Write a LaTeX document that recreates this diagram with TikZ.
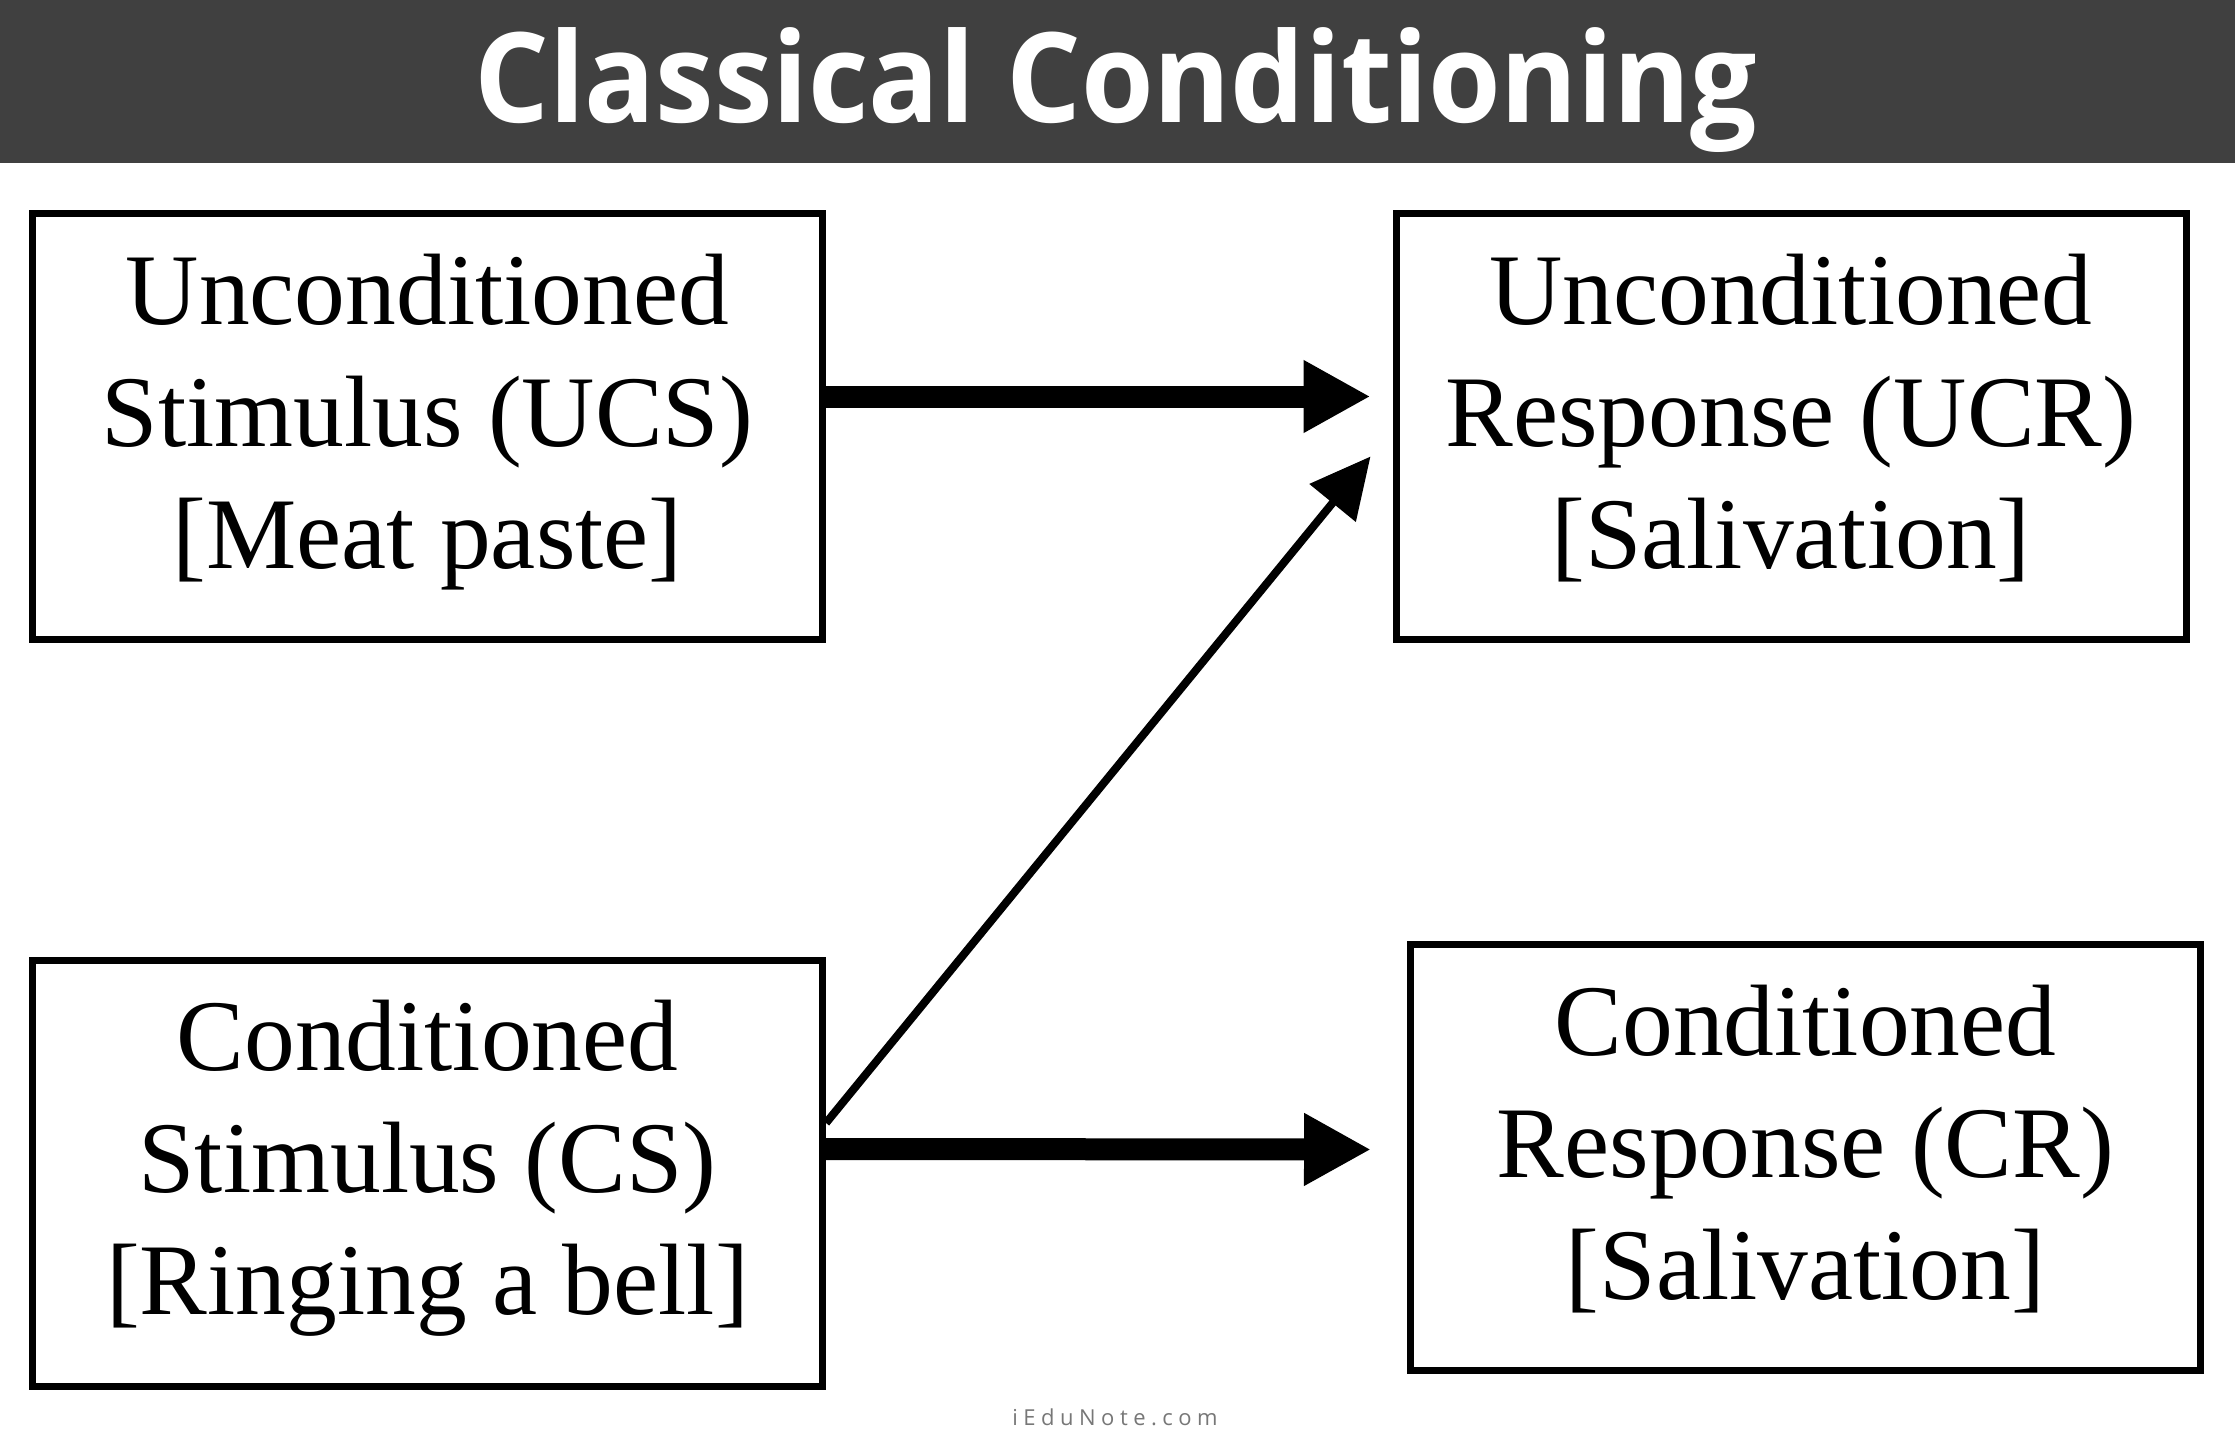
\documentclass[tikz,border=0pt]{standalone}
\usepackage{fontspec}
\usetikzlibrary{arrows.meta}
\setmainfont{Liberation Serif}
\newfontfamily\titlefont[FakeStretch=0.94]{Open Sans}
\newfontfamily\markfont{Open Sans}
\definecolor{bannergray}{HTML}{404040}
\definecolor{markgray}{HTML}{777777}
\tikzset{
    termbox/.style={draw=black, line width=7pt, fill=white, align=center, inner sep=0pt,
        minimum width=790pt, minimum height=426pt, text depth=31pt,
        font=\fontsize{101.5}{122}\selectfont},
    thickarrow/.style={line width=22pt, -{Triangle[length=67pt, width=68pt]}},
    thinarrow/.style={line width=8pt, -{Triangle[length=60pt, width=58pt]}}
}
\begin{document}
\begin{tikzpicture}[x=1pt, y=-1pt]
    \useasboundingbox (0,0) rectangle (2235,1442);
    \fill[bannergray] (0,0) rectangle (2235,163);
    \node[text=white, anchor=base, font=\titlefont\fontsize{125}{135}\selectfont\bfseries] (title) at (1116,122.7) {Classical Conditioning};

    \node[termbox] (UCS) at (427.5,426.5) {Unconditioned\\Stimulus (UCS)\\{[Meat paste]}};
    \node[termbox] (UCR) at (1791,426.5) {Unconditioned\\Response (UCR)\\{[Salivation]}};
    \node[termbox] (CS) at (427.5,1173) {Conditioned\\Stimulus (CS)\\{[Ringing a bell]}};
    \node[termbox] (CR) at (1805.5,1157.5) {Conditioned\\Response (CR)\\{[Salivation]}};

    \draw[thickarrow] ([yshift=30pt]UCS.east) -- ([xshift=-22pt, yshift=30pt]UCR.west);
    \draw[thickarrow] ([yshift=24pt]CS.east) -- ([xshift=-36pt, yshift=8pt]CR.west);
    \draw[thinarrow] ([yshift=50pt]CS.east) -- ([xshift=-22pt, yshift=-30pt]UCR.west);

    \node[text=markgray, font=\markfont\fontsize{22}{26}\selectfont\addfontfeature{LetterSpace=25}] (mark) at (1115,1417) {iEduNote.com};
\end{tikzpicture}
\end{document}
